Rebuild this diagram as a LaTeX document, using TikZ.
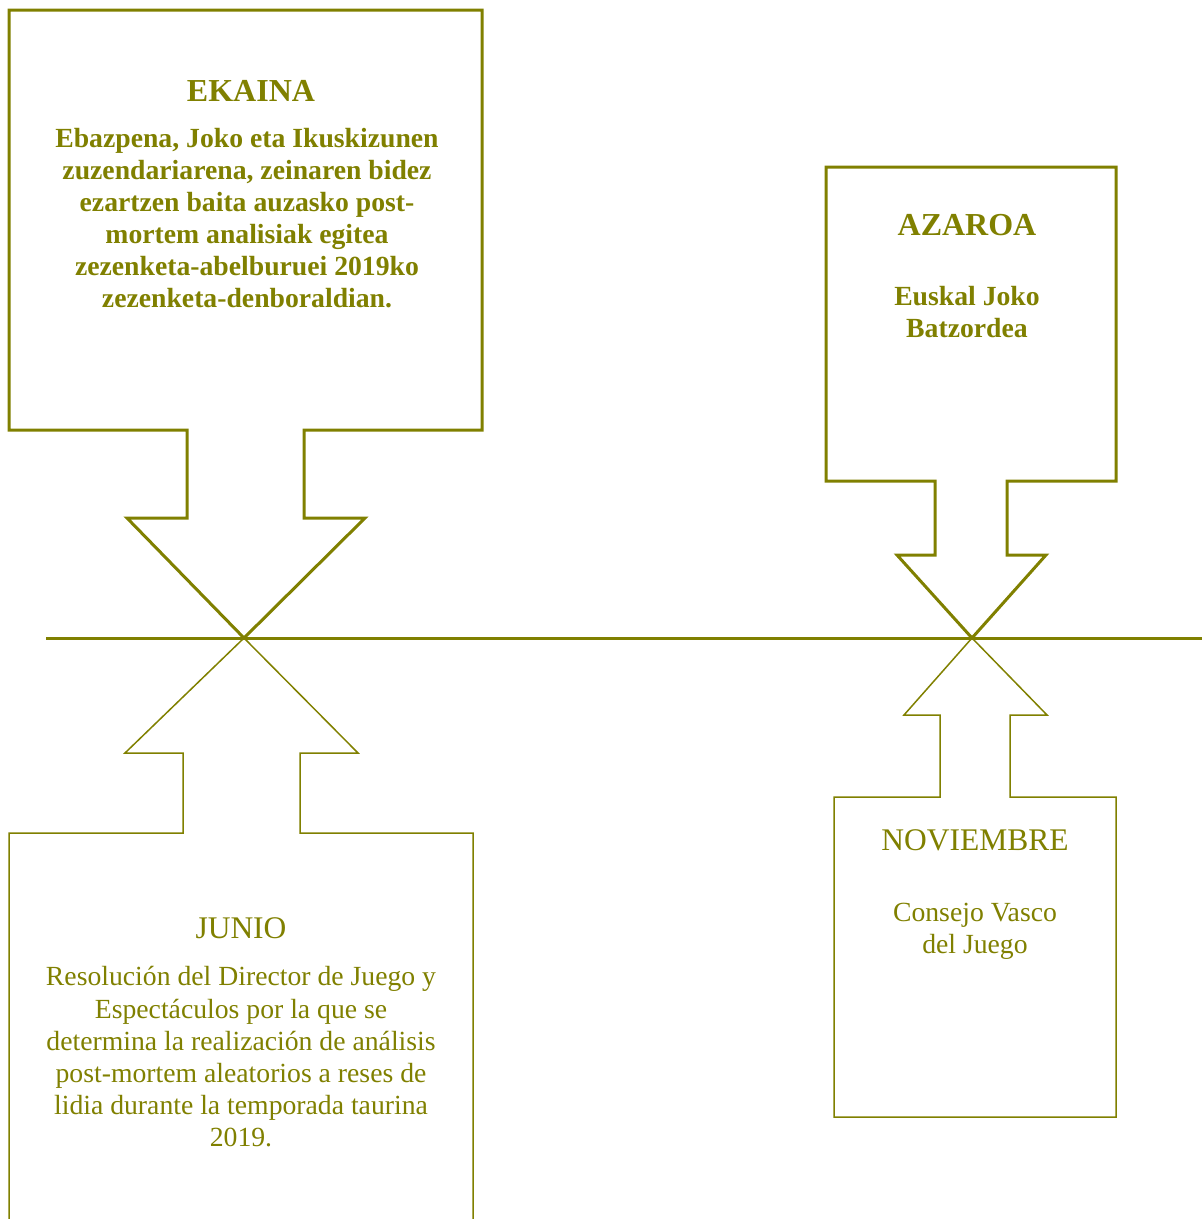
\documentclass[tikz,border=0pt]{standalone}
\usepackage{fontspec}
\setmainfont{Liberation Serif}
\definecolor{olivedoc}{RGB}{128,128,0}
\begin{document}
\begin{tikzpicture}[x=1pt, y=-1pt, line join=miter,
		boldbox/.style={draw=olivedoc, line width=3pt},
		thinbox/.style={draw=olivedoc, line width=1.5pt},
		headbold/.style={text=olivedoc, font=\fontsize{32}{37}\selectfont\bfseries},
		headthin/.style={text=olivedoc, font=\fontsize{31.5}{36}\selectfont},
		bodybold/.style={text=olivedoc, align=center, font=\fontsize{27.7}{32}\selectfont\bfseries},
		bodythin/.style={text=olivedoc, align=center, font=\fontsize{27.7}{32.2}\selectfont}]
	\useasboundingbox (0,0) rectangle (1202,1219);

	% timeline
	\coordinate (lineL) at (46,638);
	\coordinate (lineR) at (1202,638);
	\draw[boldbox] (lineL) -- (lineR);

	% callouts above the line
	\draw[boldbox] (9,10) -- (482,10) -- (482,430) -- (304,430) -- (304,518) -- (365,518) -- (244,638)
		-- (127,518) -- (187,518) -- (187,430) -- (9,430) -- cycle;
	\draw[boldbox] (826,167) -- (1116,167) -- (1116,481) -- (1007,481) -- (1007,555) -- (1046,555) -- (972,638)
		-- (897,555) -- (935,555) -- (935,481) -- (826,481) -- cycle;

	% callouts below the line
	\draw[thinbox] (9,1240) -- (9,833) -- (183,833) -- (183,753) -- (125,753) -- (244,638)
		-- (358,753) -- (300,753) -- (300,833) -- (473,833) -- (473,1240);
	\draw[thinbox] (834,1117) -- (834,797) -- (940,797) -- (940,715) -- (904,715) -- (972,638)
		-- (1047,715) -- (1010,715) -- (1010,797) -- (1116,797) -- (1116,1117) -- cycle;

	\node[headbold] (ekaina) at (251,91) {EKAINA};
	\node[bodybold] (ekainatxt) at (247,218) {Ebazpena, Joko eta Ikuskizunen\\zuzendariarena, zeinaren bidez\\ezartzen baita auzasko post-\\mortem analisiak egitea\\zezenketa-abelburuei 2019ko\\zezenketa-denboraldian.};

	\node[headbold] (azaroa) at (967,225) {AZAROA};
	\node[bodybold] (azaroatxt) at (967,312) {Euskal Joko\\Batzordea};

	\node[headthin] (junio) at (241,928) {JUNIO};
	\node[bodythin] (juniotxt) at (241,1057) {Resolución del Director de Juego y\\Espectáculos por la que se\\determina la realización de análisis\\post-mortem aleatorios a reses de\\lidia durante la temporada taurina\\2019.};

	\node[headthin] (noviembre) at (975,840) {NOVIEMBRE};
	\node[bodythin] (noviembretxt) at (975,931) {Consejo Vasco\\del Juego};
\end{tikzpicture}
\end{document}
